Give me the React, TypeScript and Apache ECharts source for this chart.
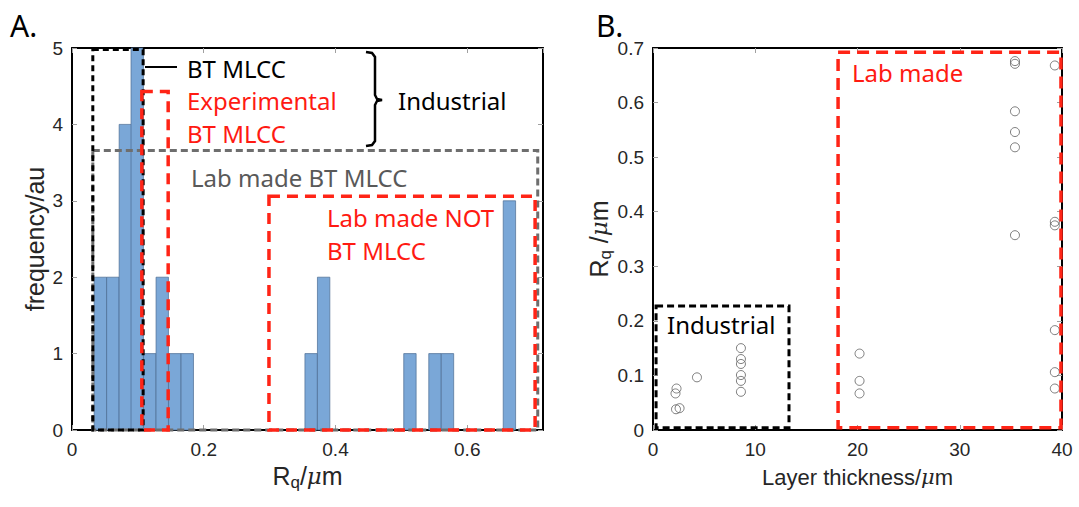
import React, { useEffect, useRef } from "react";
import * as echarts from "echarts";

// ---- Panel A: histogram of Rq ----
const binWidth = 0.0188;
const binCenters = [0.043, 0.062, 0.081, 0.099, 0.118, 0.137, 0.156, 0.175, 0.363, 0.382, 0.513, 0.551, 0.570, 0.664];
const binCounts = [2, 2, 4, 5, 1, 2, 1, 1, 1, 2, 1, 1, 1, 3];

// ---- Panel B: Rq vs layer thickness ----
const thickness = [2.3, 2.2, 2.25, 2.6, 4.3, 8.6, 8.6, 8.6, 8.6, 8.6, 8.6, 20.2, 20.2, 20.2, 35.4, 35.4, 35.4, 35.4, 35.4, 35.4, 39.3, 39.3, 39.3, 39.3, 39.3, 39.3];
const rqValues = [0.076, 0.067, 0.038, 0.040, 0.0965, 0.150, 0.130, 0.121, 0.1007, 0.090, 0.070, 0.140, 0.090, 0.067, 0.676, 0.671, 0.584, 0.546, 0.518, 0.357, 0.668, 0.3815, 0.375, 0.183, 0.106, 0.076];

// ---- Dashed annotation boxes (data units: x0, y0, x1, y1) ----
const boxesA = [
  [0.0316, 0, 0.707, 3.66],
  [0.299, 0, 0.703, 3.06],
  [0.0316, 0, 0.108, 4.98],
  [0.106, 0, 0.146, 4.43],
];
const boxStylesA = [
  { stroke: "#6e6e6e", lineWidth: 3, lineDash: [7, 4] },
  { stroke: "#ff2416", lineWidth: 3.5, lineDash: [11, 7] },
  { stroke: "#000000", lineWidth: 3, lineDash: [6, 4] },
  { stroke: "#ff2416", lineWidth: 3.5, lineDash: [11, 7] },
];
const boxesB = [
  [0.3, 0.004, 13.3, 0.227],
  [18.1, 0.004, 39.9, 0.692],
];
const boxStylesB = [
  { stroke: "#000000", lineWidth: 3, lineDash: [7, 4] },
  { stroke: "#ff2416", lineWidth: 3.5, lineDash: [12, 7] },
];

const helv = "Liberation Sans, Arial, sans-serif";
const tickFont = { fontFamily: helv, fontSize: 19, color: "#262626" };
const nameRich = {
  r: { fontFamily: helv, fontSize: 25, color: "#262626", lineHeight: 30, verticalAlign: "middle" },
  q: { fontFamily: helv, fontSize: 17, color: "#262626", lineHeight: 12, verticalAlign: "bottom" },
  mu: { fontFamily: "DejaVu Serif, serif", fontStyle: "italic", fontSize: 23, color: "#262626", lineHeight: 30, verticalAlign: "middle" },
};
const nameRichSmall = {
  r: { fontFamily: helv, fontSize: 22, color: "#262626", lineHeight: 26, verticalAlign: "middle" },
  mu: { fontFamily: "DejaVu Serif, serif", fontStyle: "italic", fontSize: 21, color: "#262626", lineHeight: 26, verticalAlign: "middle" },
};

const annFont = "Noto Sans, sans-serif";
const red = "#ff1a12";

function makeBoxRenderer(styles: any[]) {
  return (params: any, api: any) => {
    const p0 = api.coord([api.value(0), api.value(3)]);
    const p1 = api.coord([api.value(2), api.value(1)]);
    const s = styles[params.dataIndex];
    return {
      type: "rect",
      shape: { x: p0[0], y: p0[1], width: p1[0] - p0[0], height: p1[1] - p0[1] },
      style: { fill: "none", stroke: s.stroke, lineWidth: s.lineWidth, lineDash: s.lineDash },
      z2: 10,
    };
  };
}

function renderBar(params: any, api: any) {
  const c = api.value(0);
  const h = api.value(1);
  const p0 = api.coord([c - binWidth / 2, h]);
  const p1 = api.coord([c + binWidth / 2, 0]);
  return {
    type: "rect",
    shape: { x: p0[0], y: p0[1], width: p1[0] - p0[0], height: p1[1] - p0[1] },
    style: { fill: "#7aa7d7", stroke: "#4a6b92", lineWidth: 0.7 },
  };
}

const frameLine = { show: true, onZero: false, lineStyle: { color: "#000", width: 2 } };
const axisCommon = {
  type: "value",
  axisLine: frameLine,
  splitLine: { show: false },
  axisTick: { inside: true, length: 5, lineStyle: { color: "#a0a0a0" } },
};
const frameAxis = {
  type: "value",
  axisLine: frameLine,
  splitLine: { show: false },
  axisLabel: { show: false },
  axisTick: { inside: true, length: 5, lineStyle: { color: "#a0a0a0" } },
};

export default function App() {
  const ref = useRef<HTMLDivElement>(null);
  useEffect(() => {
    const chart = echarts.init(ref.current!, null, { renderer: "svg" });
    const option: any = {
      animation: false,
      backgroundColor: "#ffffff",
      grid: [
        { left: 72, top: 48, width: 471, height: 382 },
        { left: 653, top: 48, width: 409, height: 382 },
      ],
      xAxis: [
        {
          ...axisCommon,
          gridIndex: 0,
          min: 0,
          max: 0.715,
          interval: 0.2,
          axisLabel: { ...tickFont, margin: 10, showMaxLabel: false },
          name: "{r|R}{q|q}{r|/}{mu|μ}{r|m}",
          nameLocation: "middle",
          nameGap: 22,
          nameTextStyle: { rich: nameRich },
        },
        {
          ...axisCommon,
          gridIndex: 1,
          min: 0,
          max: 40,
          interval: 10,
          axisLabel: { ...tickFont, margin: 10 },
          name: "{r|Layer thickness/}{mu|μ}{r|m}",
          nameLocation: "middle",
          nameGap: 34,
          nameTextStyle: { rich: nameRichSmall },
        },
        { ...frameAxis, gridIndex: 0, position: "top", min: 0, max: 0.715, interval: 0.2 },
        { ...frameAxis, gridIndex: 1, position: "top", min: 0, max: 40, interval: 10 },
      ],
      yAxis: [
        {
          ...axisCommon,
          gridIndex: 0,
          min: 0,
          max: 5,
          interval: 1,
          axisLabel: { ...tickFont, margin: 9 },
          name: "{r|frequency/au}",
          nameLocation: "middle",
          nameGap: 22,
          nameRotate: 90,
          nameTextStyle: { rich: nameRich },
        },
        {
          ...axisCommon,
          gridIndex: 1,
          min: 0,
          max: 0.7,
          interval: 0.1,
          axisLabel: { ...tickFont, margin: 9 },
          name: "{r|R}{q|q}{r| /}{mu|μ}{r|m}",
          nameLocation: "middle",
          nameGap: 34,
          nameRotate: 90,
          nameTextStyle: { rich: nameRich },
        },
        { ...frameAxis, gridIndex: 0, position: "right", min: 0, max: 5, interval: 1 },
        { ...frameAxis, gridIndex: 1, position: "right", min: 0, max: 0.7, interval: 0.1 },
      ],
      series: [
        {
          type: "custom",
          xAxisIndex: 0,
          yAxisIndex: 0,
          renderItem: renderBar,
          encode: { x: 0, y: 1 },
          data: binCenters.map((c, i) => [c, binCounts[i]]),
        },
        {
          type: "custom",
          xAxisIndex: 0,
          yAxisIndex: 0,
          clip: false,
          z: 5,
          renderItem: makeBoxRenderer(boxStylesA),
          encode: { x: [0, 2], y: [1, 3] },
          data: boxesA,
        },
        {
          type: "scatter",
          xAxisIndex: 1,
          yAxisIndex: 1,
          symbol: "circle",
          symbolSize: 9,
          itemStyle: { color: "rgba(255,255,255,0)", borderColor: "#4d4d4d", borderWidth: 0.9 },
          data: thickness.map((t, i) => [t, rqValues[i]]),
        },
        {
          type: "custom",
          xAxisIndex: 1,
          yAxisIndex: 1,
          clip: false,
          z: 5,
          renderItem: makeBoxRenderer(boxStylesB),
          encode: { x: [0, 2], y: [1, 3] },
          data: boxesB,
        },
      ],
      graphic: [
        { type: "text", left: 10, top: 10, style: { text: "A.", font: "30px Noto Sans, sans-serif", fill: "#000" } },
        { type: "text", left: 596, top: 10, style: { text: "B.", font: "30px Noto Sans, sans-serif", fill: "#000" } },
        { type: "line", shape: { x1: 145, y1: 67, x2: 177, y2: 67 }, style: { stroke: "#000", lineWidth: 2 }, z: 20 },
        { type: "text", x: 187, y: 68, style: { text: "BT MLCC", font: `24px ${annFont}`, fill: "#000", textVerticalAlign: "middle" }, z: 20 },
        { type: "text", x: 187, y: 100, style: { text: "Experimental", font: `24px ${annFont}`, fill: red, textVerticalAlign: "middle" }, z: 20 },
        { type: "text", x: 187, y: 133, style: { text: "BT MLCC", font: `24px ${annFont}`, fill: red, textVerticalAlign: "middle" }, z: 20 },
        {
          type: "polyline",
          shape: { points: [[366, 52], [372, 53], [375, 57], [375, 95], [377, 99], [382, 100], [377, 101], [375, 105], [375, 141], [372, 145], [366, 146]] },
          style: { stroke: "#000", lineWidth: 2.5, fill: "none" },
          z: 20,
        },
        { type: "text", x: 398, y: 100, style: { text: "Industrial", font: `24px ${annFont}`, fill: "#000", textVerticalAlign: "middle" }, z: 20 },
        { type: "text", x: 191, y: 177, style: { text: "Lab made BT MLCC", font: `24px ${annFont}`, fill: "#595959", textVerticalAlign: "middle" }, z: 20 },
        { type: "text", x: 327, y: 217, style: { text: "Lab made NOT", font: `24px ${annFont}`, fill: red, textVerticalAlign: "middle" }, z: 20 },
        { type: "text", x: 327, y: 250, style: { text: "BT MLCC", font: `24px ${annFont}`, fill: red, textVerticalAlign: "middle" }, z: 20 },
        { type: "text", x: 667, y: 324, style: { text: "Industrial", font: `24px ${annFont}`, fill: "#000", textVerticalAlign: "middle" }, z: 20 },
        { type: "text", x: 852, y: 72, style: { text: "Lab made", font: `24px ${annFont}`, fill: red, textVerticalAlign: "middle" }, z: 20 },
      ],
    };
    chart.setOption(option);
    return () => chart.dispose();
  }, []);
  return <div ref={ref} style={{ position: "absolute", left: 0, top: 0, width: 1079, height: 507 }} />;
}
